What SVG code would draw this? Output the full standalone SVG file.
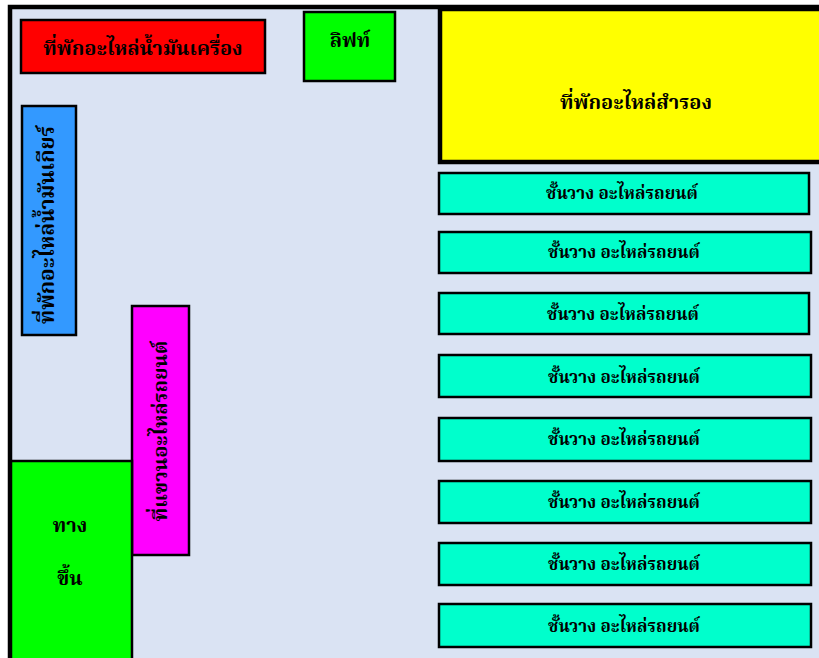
<svg xmlns="http://www.w3.org/2000/svg" width="819" height="658" viewBox="0 0 819 658">
<style>
.box{stroke:#000;stroke-width:2.5}
.t{font-family:"Liberation Serif","Noto Serif Thai","Noto Sans Thai",serif;font-weight:bold;fill:#000;text-anchor:middle}
.s{font-size:17px}
.shelf{fill:#00FFCC;stroke:#000;stroke-width:2.5}
</style>
<rect x="10" y="7" width="830" height="670" fill="#DAE3F3" stroke="#000" stroke-width="4.5"/>
<g id="red">
<rect class="box" x="21" y="20" width="244" height="53" fill="#FF0000"/>
<text class="t" x="143" y="55" font-size="20">ที่พักอะไหล่น้ำมันเครื่อง</text>
</g>
<g id="lift">
<rect class="box" x="304" y="12" width="91" height="69" fill="#00FF00"/>
<text class="t" x="350" y="47" font-size="20">ลิฟท์</text>
</g>
<g id="spare">
<rect x="440" y="9" width="385" height="153" fill="#FFFF00" stroke="#000" stroke-width="4.5"/>
<text class="t" x="636" y="109" font-size="20">ที่พักอะไหล่สำรอง</text>
</g>
<g id="gear">
<rect class="box" x="22" y="106" width="54" height="229" fill="#3399FF"/>
<text class="t" font-size="21" transform="translate(54,225) rotate(-90)">ที่พักอะไหล่น้ำมันเกียร์</text>
</g>
<g id="hang">
<rect class="box" x="132" y="306" width="57" height="249" fill="#FF00FF"/>
<text class="t" font-size="20" transform="translate(167,431) rotate(-90)">ที่แขวนอะไหล่รถยนต์</text>
</g>
<g id="stair">
<rect class="box" x="11" y="461" width="121" height="210" fill="#00FF00"/>
<text class="t" x="70" y="532" font-size="20">ทาง</text>
<text class="t" x="70" y="585" font-size="20">ขึ้น</text>
</g>
<g id="shelves">
<g id="shelf1"><rect class="shelf" x="439" y="173" width="370" height="41"/><text class="t s" x="622" y="199">ชั้นวาง อะไหล่รถยนต์</text></g>
<g id="shelf2"><rect class="shelf" x="439" y="232" width="372" height="41"/><text class="t s" x="624" y="258">ชั้นวาง อะไหล่รถยนต์</text></g>
<g id="shelf3"><rect class="shelf" x="439" y="293" width="370" height="41"/><text class="t s" x="623" y="320">ชั้นวาง อะไหล่รถยนต์</text></g>
<g id="shelf4"><rect class="shelf" x="439" y="355" width="372" height="42"/><text class="t s" x="624" y="383">ชั้นวาง อะไหล่รถยนต์</text></g>
<g id="shelf5"><rect class="shelf" x="439" y="418" width="372" height="43"/><text class="t s" x="624" y="445">ชั้นวาง อะไหล่รถยนต์</text></g>
<g id="shelf6"><rect class="shelf" x="439" y="481" width="372" height="42"/><text class="t s" x="624" y="508">ชั้นวาง อะไหล่รถยนต์</text></g>
<g id="shelf7"><rect class="shelf" x="439" y="543" width="372" height="42"/><text class="t s" x="624" y="570">ชั้นวาง อะไหล่รถยนต์</text></g>
<g id="shelf8"><rect class="shelf" x="439" y="604" width="372" height="43"/><text class="t s" x="624" y="632">ชั้นวาง อะไหล่รถยนต์</text></g>
</g>
</svg>
